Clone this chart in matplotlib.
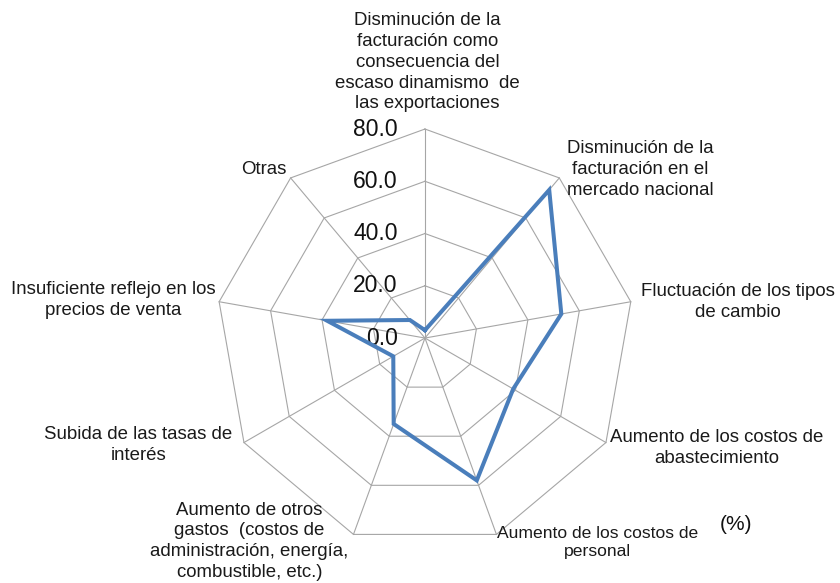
import numpy as np
import matplotlib
matplotlib.use("Agg")
import matplotlib.pyplot as plt

plt.rcParams["font.family"] = ["Liberation Sans", "DejaVu Sans"]

# ---------------------------------------------------------------
# Data
# ---------------------------------------------------------------
categories = [
    "Disminución de la\nfacturación como\nconsecuencia del\nescaso dinamismo  de\nlas exportaciones",
    "Disminución de la\nfacturación en el\nmercado nacional",
    "Fluctuación de los tipos\nde cambio",
    "Aumento de los costos de\nabastecimiento",
    "Aumento de los costos de\npersonal",
    "Aumento de otros\ngastos  (costos de\nadministración, energía,\ncombustible, etc.)",
    "Subida de las tasas de\ninterés",
    "Insuficiente reflejo en los\nprecios de venta",
    "Otras",
]
values = [3.0, 74.0, 53.0, 39.0, 58.0, 35.0, 14.0, 38.0, 9.0]
ticks = [0, 20, 40, 60, 80]
tick_labels = ["0.0", "20.0", "40.0", "60.0", "80.0"]

# label offsets from the outer vertex (points), alignment, font size
label_pos = [
    (2, 12, "center", "bottom", 13.4),
    (58, 6, "center", "center", 13.4),
    (77, 0, "center", "center", 13.4),
    (80, -4, "center", "center", 13.4),
    (73, -6, "center", "center", 12.6),
    (-75, -5, "center", "center", 13.4),
    (-76, -2, "center", "center", 13.4),
    (-76, 1, "center", "center", 13.4),
    (-19, 6, "center", "center", 13.4),
]

# ---------------------------------------------------------------
# Radar chart
# ---------------------------------------------------------------
n = len(categories)
theta = np.arange(n) * 2 * np.pi / n
theta_c = np.append(theta, theta[0])

fig = plt.figure(figsize=(8.4, 5.83), dpi=100)
ax = fig.add_axes([0.2571, 0.0617, 0.4976, 0.717], projection="polar")
ax.set_theta_offset(np.pi / 2)
ax.set_theta_direction(-1)
ax.set_ylim(0, 80)
ax.set_xticks([])
ax.set_yticks([])
ax.grid(False)
ax.spines["polar"].set_visible(False)
ax.patch.set_visible(False)

grid_color = "#a6a6a6"
for r in ticks[1:]:
    ax.plot(theta_c, [r] * (n + 1), color=grid_color, lw=0.8, clip_on=False)
for t in theta:
    ax.plot([t, t], [0, 80], color=grid_color, lw=0.8, clip_on=False)

vals_c = values + values[:1]
ax.plot(theta_c, vals_c, color="#4a7ebb", lw=2.9, clip_on=False, zorder=5,
        solid_joinstyle="miter")

for r, lab in zip(ticks, tick_labels):
    ax.annotate(lab, xy=(0, r), xytext=(-19.5, 0), textcoords="offset points",
                ha="right", va="center", fontsize=16.5, color="#111111",
                annotation_clip=False)

for t, lab, (dx, dy, ha, va, fs) in zip(theta, categories, label_pos):
    ax.annotate(lab, xy=(t, 80), xytext=(dx, dy), textcoords="offset points",
                ha=ha, va=va, fontsize=fs, color="#1a1a1a",
                multialignment="center", linespacing=1.29,
                annotation_clip=False)

fig.text(736 / 840, 1 - 524 / 583, "(%)", ha="center", va="center",
         fontsize=15, color="#111111")

fig.savefig("out.png", dpi=100)
